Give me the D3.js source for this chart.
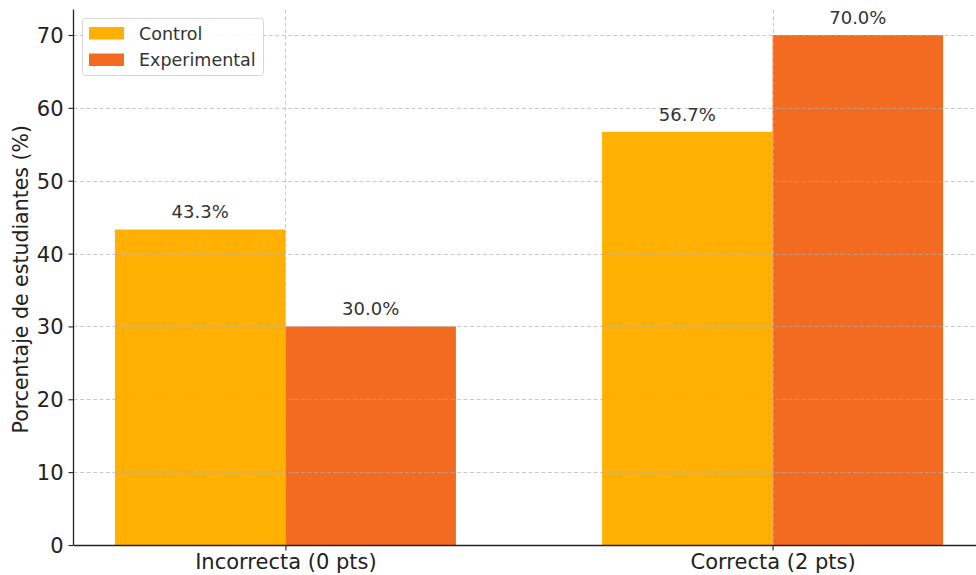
<!DOCTYPE html>
<html>
<head>
<meta charset="utf-8">
<script src="https://cdn.jsdelivr.net/npm/d3@7"></script>
<style>
  html, body { margin: 0; padding: 0; background: #fff; }
  svg { display: block; font-family: "DejaVu Sans", sans-serif; }
</style>
</head>
<body>
<svg id="chart" width="976" height="575"></svg>
<script>
const categories = ["Incorrecta (0 pts)", "Correcta (2 pts)"];
const seriesNames = ["Control", "Experimental"];
const controlValues = [43.3, 56.7];
const experimentalValues = [30.0, 70.0];
const yTicks = [0, 10, 20, 30, 40, 50, 60, 70];
const colors = ["#FFB000", "#F36B21"];

const svg = d3.select("#chart");
const x = d3.scaleLinear().domain([-0.435, 1.435]).range([73.5, 984.5]);
const y = d3.scaleLinear().domain([0, 73.5]).range([545, 9.5]);
const barW = 0.35;

const series = [controlValues, experimentalValues];
const gBars = svg.append("g");
series.forEach((vals, si) => {
  vals.forEach((v, i) => {
    const x0 = si === 0 ? i - barW : i;
    gBars.append("rect")
      .attr("x", x(x0))
      .attr("width", x(x0 + barW) - x(x0))
      .attr("y", y(v))
      .attr("height", y(0) - y(v))
      .attr("fill", colors[si]);
  });
});

// grid (drawn above bars)
const grid = svg.append("g");
yTicks.forEach(t => {
  grid.append("line")
    .attr("x1", x(-0.435)).attr("x2", 976)
    .attr("y1", Math.round(y(t)) + 0.5).attr("y2", Math.round(y(t)) + 0.5)
    .attr("stroke", "#b0b0b0").attr("stroke-opacity", 0.75)
    .attr("stroke-width", 0.9).attr("stroke-dasharray", "4,2.5");
});
categories.forEach((c, i) => {
  grid.append("line")
    .attr("x1", Math.round(x(i)) + 0.5).attr("x2", Math.round(x(i)) + 0.5)
    .attr("y1", y(73.5)).attr("y2", y(0))
    .attr("stroke", "#b0b0b0").attr("stroke-opacity", 0.75)
    .attr("stroke-width", 0.9).attr("stroke-dasharray", "4,2.5");
});

// value labels
series.forEach((vals, si) => {
  vals.forEach((v, i) => {
    const xc = si === 0 ? i - barW / 2 : i + barW / 2;
    svg.append("text")
      .attr("x", x(xc))
      .attr("y", y(v + 1) - 4)
      .attr("text-anchor", "middle")
      .attr("font-size", 18)
      .attr("fill", "#333")
      .text(v.toFixed(1) + "%");
  });
});

// y axis
const yAxis = d3.axisLeft(y).tickValues(yTicks).tickSize(5).tickPadding(5).tickFormat(d3.format("d"));
const gy = svg.append("g").attr("transform", "translate(73.5,0)").call(yAxis);
gy.select(".domain").attr("stroke", "#222").attr("stroke-width", 1.3).attr("d", `M0,${y(73.5)}V${y(0)}`);
gy.selectAll(".tick line").attr("stroke", "#222").attr("stroke-width", 1.1);
gy.selectAll(".tick text").attr("font-size", 21).attr("fill", "#222").attr("font-family", "DejaVu Sans").attr("dy", "0.36em");

// x axis
const xAxis = d3.axisBottom(x).tickValues([0, 1]).tickSize(5).tickPadding(4).tickFormat((d) => categories[d]);
const gx = svg.append("g").attr("transform", `translate(0,${y(0) + 0.5})`).call(xAxis);
gx.select(".domain").attr("stroke", "#222").attr("stroke-width", 1.3).attr("d", `M${x(-0.435)},0H976`);
gx.selectAll(".tick line").attr("stroke", "#222").attr("stroke-width", 1.1);
gx.selectAll(".tick text").attr("font-size", 21).attr("fill", "#222").attr("font-family", "DejaVu Sans");

// y label
svg.append("text")
  .attr("transform", `translate(28,${y(36.75) + 2}) rotate(-90)`)
  .attr("text-anchor", "middle")
  .attr("font-size", 20.5)
  .attr("fill", "#222")
  .text("Porcentaje de estudiantes (%)");

// legend
const lg = svg.append("g");
lg.append("rect").attr("x", 82.5).attr("y", 18.5).attr("width", 181).attr("height", 57)
  .attr("rx", 3).attr("fill", "#fff").attr("fill-opacity", 0.85)
  .attr("stroke", "#d6d6d6").attr("stroke-width", 1);
seriesNames.forEach((n, i) => {
  lg.append("rect").attr("x", 89).attr("y", 27 + i * 26.5).attr("width", 35).attr("height", 12.5).attr("fill", colors[i]);
  lg.append("text").attr("x", 139).attr("y", 39.5 + i * 26.5).attr("font-size", 17.5).attr("fill", "#333").text(n);
});
</script>
</body>
</html>
